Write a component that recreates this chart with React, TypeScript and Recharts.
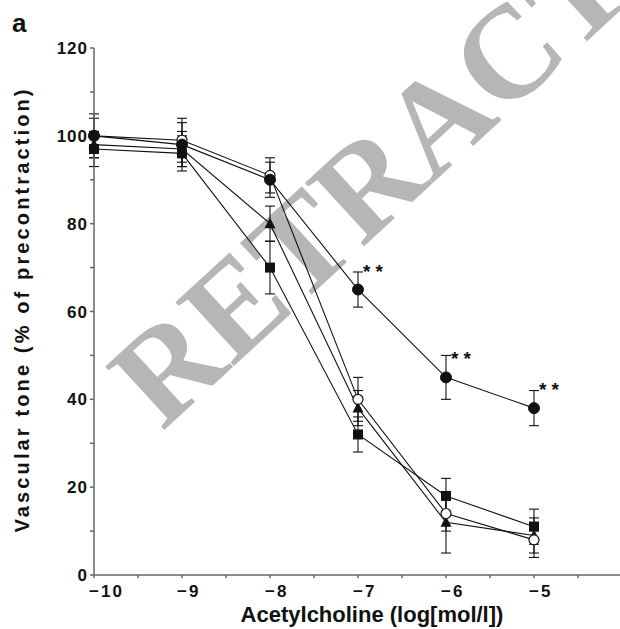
import React from 'react';
import { LineChart, Line, XAxis, YAxis, ErrorBar, LabelList } from 'recharts';

// acetylcholine dose (log mol/l)
const doses = [-10, -9, -8, -7, -6, -5];

// vascular tone, % of precontraction (mean and error)
const filledCircle = [100, 98, 90, 65, 45, 38];
const filledCircleErr = [5, 5, 4, 4, 5, 4];
const openCircle = [100, 99, 91, 40, 14, 8];
const openCircleErr = [4, 5, 4, 5, 4, 4];
const triangle = [98, 97, 80, 38, 12, 9];
const triangleErr = [3, 4, 4, 4, 7, 4];
const square = [97, 96, 70, 32, 18, 11];
const squareErr = [4, 4, 6, 4, 4, 4];
const significance = ['', '', '', '**', '**', '**'];

const xTicks = [-10, -9.5, -9, -8.5, -8, -7.5, -7, -6.5, -6, -5.5, -5, -4.5, -4];
const xLabels = [-10, -9, -8, -7, -6, -5];
const yTicks = [0, 10, 20, 30, 40, 50, 60, 70, 80, 90, 100, 110, 120];
const yLabels = [0, 20, 40, 60, 80, 100, 120];

const data = doses.map((x, i) => ({
  x,
  fc: filledCircle[i],
  fcErr: filledCircleErr[i],
  oc: openCircle[i],
  ocErr: openCircleErr[i],
  tr: triangle[i],
  trErr: triangleErr[i],
  sq: square[i],
  sqErr: squareErr[i],
  star: significance[i],
}));

const FONT = '"Liberation Sans", Arial, sans-serif';
const INK = '#111';

const XTick = (props: any) => {
  const { x, y, payload } = props;
  if (!xLabels.includes(payload.value)) return <g />;
  return (
    <text x={x - 5} y={y + 17} textAnchor="start" fontFamily={FONT} fontWeight="bold" fontSize={17} letterSpacing={2} fill={INK}>
      {'\u2212' + Math.abs(payload.value)}
    </text>
  );
};

const YTick = (props: any) => {
  const { x, y, payload } = props;
  if (!yLabels.includes(payload.value)) return <g />;
  return (
    <text x={x} y={y + 6} textAnchor="end" fontFamily={FONT} fontWeight="bold" fontSize={17} letterSpacing={1} fill={INK}>
      {payload.value}
    </text>
  );
};

const FilledDot = (p: any) => <circle key={`fc${p.index}`} cx={p.cx} cy={p.cy} r={5.5} fill={INK} stroke={INK} />;
const OpenDot = (p: any) => <circle key={`oc${p.index}`} cx={p.cx} cy={p.cy} r={5} fill="#fff" stroke={INK} strokeWidth={1.2} />;
const TriangleDot = (p: any) => (
  <polygon key={`tr${p.index}`} points={`${p.cx},${p.cy - 6} ${p.cx - 5.5},${p.cy + 4.5} ${p.cx + 5.5},${p.cy + 4.5}`} fill={INK} />
);
const SquareDot = (p: any) => <rect key={`sq${p.index}`} x={p.cx - 5} y={p.cy - 5} width={10} height={10} fill={INK} />;

const StarLabel = (props: any) => {
  const { x, y, value } = props;
  if (!value) return null;
  return (
    <text x={x + 5} y={y - 12} fontFamily={FONT} fontWeight="bold" fontSize={19} letterSpacing={5} fill={INK}>
      {value}
    </text>
  );
};

export default function App() {
  return (
    <div style={{ position: 'absolute', left: 0, top: 0, width: 620, height: 629, overflow: 'hidden', background: '#fff' }}>
      <svg width={620} height={629} style={{ position: 'absolute', left: 0, top: 0 }}>
        <text
          transform="translate(162,432) rotate(-42.6)"
          fontFamily='"Liberation Serif", "Times New Roman", serif'
          fontWeight="bold"
          fontSize={132}
          fill="#b5b6b8"
        >
          RETRACTED
        </text>
        <text x={12} y={32} fontFamily={FONT} fontWeight="bold" fontSize={26} fill={INK}>
          a
        </text>
      </svg>
      <div style={{ position: 'absolute', left: 0, top: 0 }}>
        <LineChart width={625} height={629} data={data} margin={{ top: 48, right: 3, bottom: 0, left: 0 }}>
          <XAxis
            type="number"
            dataKey="x"
            domain={[-10, -4]}
            ticks={xTicks}
            interval={0}
            height={54}
            tick={XTick}
            tickSize={3}
            tickMargin={2}
            stroke="#666"
            strokeWidth={1.5}
            label={(p: any) => (
              <text
                x={372}
                y={622}
                textAnchor="middle"
                fontFamily={FONT}
                fontWeight="bold"
                fontSize={22}
                fill={INK}
              >
                Acetylcholine (log[mol/l])
              </text>
            )}
          />
          <YAxis
            type="number"
            domain={[0, 120]}
            ticks={yTicks}
            interval={0}
            width={94}
            tick={YTick}
            tickSize={4}
            tickMargin={2}
            stroke="#666"
            strokeWidth={1.5}
            label={(p: any) => (
              <text
                transform="translate(29,311) rotate(-90)"
                textAnchor="middle"
                fontFamily={FONT}
                fontWeight="bold"
                fontSize={20}
                textLength={443}
                lengthAdjust="spacing"
                fill={INK}
              >
                Vascular tone (% of precontraction)
              </text>
            )}
          />
          <Line dataKey="sq" stroke={INK} strokeWidth={1.1} dot={SquareDot} isAnimationActive={false}>
            <ErrorBar dataKey="sqErr" width={5} stroke={INK} strokeWidth={1.1} direction="y" />
          </Line>
          <Line dataKey="tr" stroke={INK} strokeWidth={1.1} dot={TriangleDot} isAnimationActive={false}>
            <ErrorBar dataKey="trErr" width={5} stroke={INK} strokeWidth={1.1} direction="y" />
          </Line>
          <Line dataKey="oc" stroke={INK} strokeWidth={1.1} dot={OpenDot} isAnimationActive={false}>
            <ErrorBar dataKey="ocErr" width={5} stroke={INK} strokeWidth={1.1} direction="y" />
          </Line>
          <Line dataKey="fc" stroke={INK} strokeWidth={1.1} dot={FilledDot} isAnimationActive={false}>
            <ErrorBar dataKey="fcErr" width={5} stroke={INK} strokeWidth={1.1} direction="y" />
            <LabelList dataKey="star" content={StarLabel} />
          </Line>
        </LineChart>
      </div>
    </div>
  );
}
